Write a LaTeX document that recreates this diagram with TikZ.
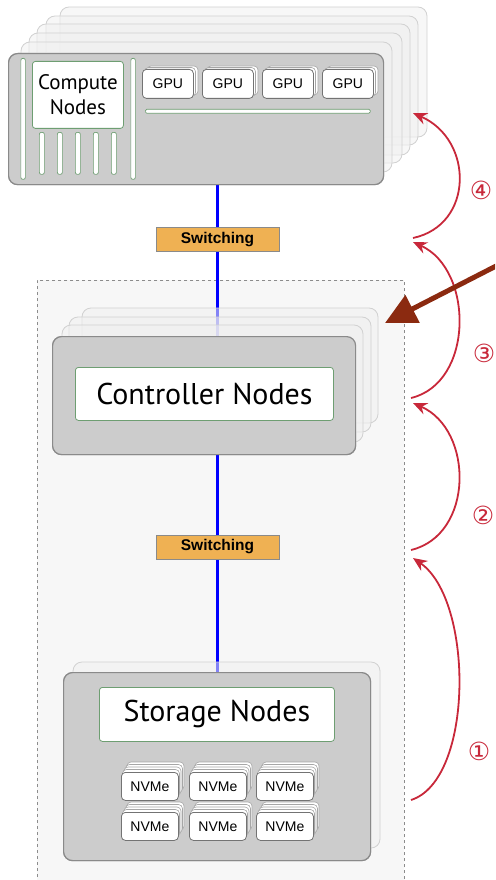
\documentclass[tikz,border=0pt]{standalone}
\usepackage{fontspec}
\setmainfont{PT Sans}
\newfontfamily\uifont{Liberation Sans}
\newfontfamily\circfont{DejaVu Sans}
\usetikzlibrary{arrows.meta}
\definecolor{boxgray}{HTML}{CCCCCC}
\definecolor{boxedge}{HTML}{8A8A8A}
\definecolor{greenedge}{HTML}{6E9E72}
\definecolor{switchfill}{HTML}{EFB153}
\definecolor{arcred}{HTML}{C8283A}
\definecolor{bigbrown}{HTML}{8B2A10}
\definecolor{contfill}{HTML}{F7F7F7}
\tikzset{
  panel/.style={draw=boxedge, line width=1.2pt, fill=boxgray, rounded corners=9pt, inner sep=0pt},
  layer/.style={draw=black!18, line width=0.8pt, fill=black!6, fill opacity=0.55, rounded corners=9pt},
  txtbox/.style={draw=greenedge, line width=0.8pt, fill=white, rounded corners=3pt, inner sep=0pt},
  bar/.style={draw=greenedge, line width=0.7pt, fill=white, rounded corners=2pt, inner sep=0pt},
  chip/.style={draw=black!55, line width=0.8pt, fill=white, rounded corners=4pt, inner sep=0pt, font=\uifont\fontsize{14}{16}\selectfont},
  chiplayer/.style={draw=black!35, line width=0.6pt, fill=white, rounded corners=4pt},
  switchbox/.style={draw=boxedge, line width=0.9pt, fill=switchfill, inner sep=0pt, minimum width=123pt, minimum height=24pt, font=\uifont\bfseries\fontsize{15.5}{17}\selectfont},
  blueline/.style={draw=blue, line width=3pt},
  arc/.style={draw=arcred, line width=1.8pt, -{Stealth[length=14pt,width=12pt]}},
  num/.style={text=arcred, font=\circfont\fontsize{25}{27}\selectfont, inner sep=0pt},
  container/.style={draw=black!45, dashed, line width=0.8pt, fill=contfill, inner sep=0pt}
}
\begin{document}
\begin{tikzpicture}[x=1pt,y=-1pt]
\useasboundingbox (0,0) rectangle (495,880);
\clip (0,0) rectangle (495,880);

% container
\node[container, anchor=north west, minimum width=367pt, minimum height=640pt] (cont) at (37,280) {};

% panels (first pass, to anchor the blue lines)
\coordinate (lineX) at (217.5,0);
\node[panel, anchor=north west, minimum width=375pt, minimum height=131pt] (comp) at (8,53) {};
\node[panel, anchor=north west, minimum width=303pt, minimum height=118pt] (ctrl) at (52,336) {};
\node[panel, anchor=north west, minimum width=307pt, minimum height=188pt] (stor) at (63,672) {};

% blue lines drawn under the translucent layers
\draw[blueline] (lineX |- comp.south) -- (lineX |- ctrl.north);
\draw[blueline] (lineX |- ctrl.south) -- (lineX |- stor.north);

% compute stack layers (back to front)
\foreach \l/\t/\r/\b in {60/7/427/137, 46/16/418/145, 37/24/410/155, 29/33/402/163, 21/42/392/172}
  \draw[layer] (\l,\t) rectangle (\r,\b);
% controller stack layers
\foreach \l/\t/\r/\b in {82/308/378/423, 69/317/371/432, 62/325/363/442}
  \draw[layer] (\l,\t) rectangle (\r,\b);
% storage stack layer
\draw[layer] (73,662) rectangle (380,848);

% front panels (redrawn on top)
\node[panel, anchor=north west, minimum width=375pt, minimum height=131pt] (compF) at (8,53) {};
\node[panel, anchor=north west, minimum width=303pt, minimum height=118pt] (ctrlF) at (52,336) {};
\node[panel, anchor=north west, minimum width=307pt, minimum height=188pt] (storF) at (63,672) {};

% compute internals
\node[txtbox, anchor=north west, minimum width=91pt, minimum height=67pt, align=center,
      font=\fontsize{21}{25}\selectfont] (cn) at (32,61) {Compute\\Nodes};
\node[bar, anchor=north west, minimum width=4.5pt, minimum height=121pt] (lbar) at (20.5,58) {};
\node[bar, anchor=north west, minimum width=4.5pt, minimum height=121pt] (rbar) at (130.5,58) {};
\foreach \x [count=\i] in {39,57,75,93,111}
  \node[bar, anchor=north west, minimum width=5pt, minimum height=42pt] (sb\i) at (\x,132) {};
\node[bar, anchor=north west, minimum width=225pt, minimum height=4pt, rounded corners=1.5pt] (hbar) at (145,109) {};
\foreach \x [count=\i] in {142,202,262,322} {
  \draw[chiplayer] (\x+5,66) rectangle (\x+56,95);
  \draw[chiplayer] (\x+2.5,67.5) rectangle (\x+53.5,96.5);
  \node[chip, anchor=north west, minimum width=51pt, minimum height=29pt] (gpu\i) at (\x,69) {GPU};
}

% controller text
\node[txtbox, anchor=north west, minimum width=258pt, minimum height=53pt,
      font=\fontsize{30}{33}\selectfont] (cnt) at (75,367) {Controller Nodes};

% storage text
\node[txtbox, anchor=north west, minimum width=235pt, minimum height=54pt,
      font=\fontsize{30}{33}\selectfont] (snt) at (99,687) {Storage Nodes};
\foreach \x [count=\i] in {121,189,256}
  \foreach \y [count=\j] in {772,812} {
    \foreach \k in {4,3,2,1}
      \draw[chiplayer] (\x+1.5*\k,\y-2.5*\k) rectangle (\x+57+1.5*\k,\y+28-2.5*\k);
    \node[chip, anchor=north west, minimum width=57pt, minimum height=28pt] (nv\i\j) at (\x,\y) {NVMe};
  }

% switching boxes
\node[switchbox] (sw1) at (217.5,239.5) {Switching};
\node[switchbox] (sw2) at (217.5,547) {Switching};

% red arcs
\coordinate (a1b) at (411,800); \coordinate (a1t) at (413,558);
\coordinate (a2b) at (411,550); \coordinate (a2t) at (413,403);
\coordinate (a3b) at (411,398); \coordinate (a3t) at (413,242);
\coordinate (a4b) at (413,238); \coordinate (a4t) at (413,113);
\draw[arc] (a1b) .. controls (474,780) and (474,600) .. (a1t);
\draw[arc] (a2b) .. controls (474,535) and (474,430) .. (a2t);
\draw[arc] (a3b) .. controls (474,383) and (474,270) .. (a3t);
\draw[arc] (a4b) .. controls (474,225) and (474,140) .. (a4t);
\node[num] (n1) at (479,751) {①};
\node[num] (n2) at (483,515) {②};
\node[num] (n3) at (484,353) {③};
\node[num] (n4) at (481,190) {④};

% brown arrow
\coordinate (bs) at (500,264);
\coordinate (bt) at (385,323);
\draw[draw=bigbrown, line width=5pt, -{Triangle[length=31pt,width=30pt]}] (bs) -- (bt);
\end{tikzpicture}
\end{document}
